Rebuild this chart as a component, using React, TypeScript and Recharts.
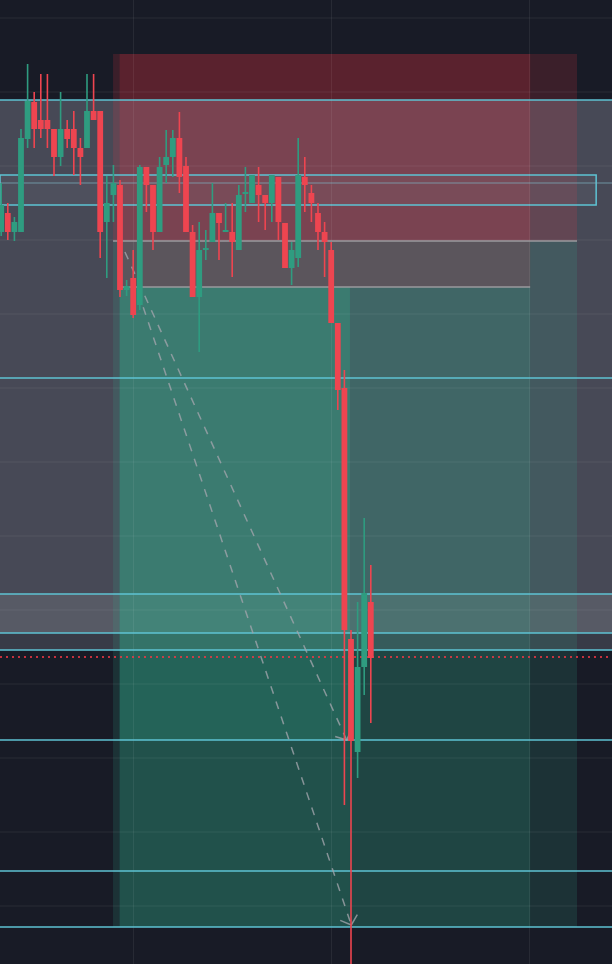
import React from "react";
import { ComposedChart, Bar, XAxis, YAxis, ReferenceArea, ReferenceLine } from "recharts";

// candles, left to right (price units are the chart's own scale, 0 = bottom edge)
const OPEN = [732, 751, 732, 732, 825, 862, 844, 844, 835, 807, 835, 835, 816, 816, 853, 853, 742, 769, 779, 674, 686, 659, 797, 779, 732, 799, 807, 826, 798, 732, 667, 714, 722, 751, 732, 732, 714, 770, 761, 779, 769, 761, 787, 741, 696, 706, 787, 771, 751, 732, 714, 641, 576, 325, 212, 297, 362];
const HIGH = [781, 761, 747, 835, 900, 872, 890, 890, 835, 872, 844, 853, 826, 890, 890, 853, 788, 799, 784, 684, 714, 799, 797, 779, 807, 834, 834, 852, 807, 739, 742, 734, 781, 751, 761, 761, 779, 797, 789, 797, 769, 789, 787, 741, 722, 826, 807, 779, 761, 742, 722, 641, 594, 334, 362, 446, 399];
const LOW = [728, 724, 723, 732, 816, 816, 826, 816, 788, 798, 816, 789, 779, 816, 844, 706, 686, 742, 667, 668, 646, 654, 752, 714, 732, 781, 787, 771, 732, 667, 612, 704, 722, 704, 732, 687, 714, 752, 761, 742, 734, 742, 724, 696, 679, 697, 752, 742, 714, 687, 641, 554, 159, 0, 186, 269, 241];
const CLOSE = [759, 732, 742, 826, 863, 835, 835, 835, 807, 835, 825, 816, 807, 853, 844, 732, 761, 781, 674, 678, 649, 797, 779, 732, 797, 807, 826, 787, 732, 667, 714, 716, 751, 741, 734, 722, 769, 772, 789, 769, 761, 789, 742, 696, 714, 789, 779, 761, 732, 722, 641, 574, 334, 223, 297, 371, 306];

// horizontal levels
const CYAN_LEVELS = [864, 586, 370, 331, 314, 224, 93, 37];
const THIN_LEVEL = 781;
const BOX = { from: 759, to: 789, end: 90.1 };
const DOTTED_LEVEL = 307;
const GRID_PRICES = [946, 872, 798, 724, 650, 576, 502, 428, 354, 280, 206, 132, 58];
const GRID_BARS = [20, 50, 80];

// gray bands
const GRAY_BANDS = [
  { top: 864, bottom: 314, opacity: 0.34 },
  { top: 864, bottom: 331, opacity: 0.24 },
  { top: 370, bottom: 331, opacity: 0.33 },
];

// short position tools: bar range, stop, entry, target
const POSITIONS = [
  { start: 16.9, end: 87.2, stop: 910, entry: 723, target: 37, red: 0.16, green: 0.16 },
  { start: 17.9, end: 80.1, stop: 910, entry: 677, target: 37, red: 0.17, green: 0.155 },
];
// extra profit zones of the shorter tools
const EXTRA_ZONES = [
  { start: 17.9, end: 52.8, top: 677, bottom: 37, opacity: 0.12 },
  { start: 17.9, end: 52.8, top: 677, bottom: 224, opacity: 0.2 },
];

// dashed price paths
const PATHS = [
  { from: { x: 18.7, y: 712 }, to: { x: 52.3, y: 224 } },
  { from: { x: 20.7, y: 672 }, to: { x: 53, y: 39 } },
];

const X_MIN = -0.227;
const X_MAX = 92.5;

const BG = "#181b26";
const UP = "#2f9c80";
const DOWN = "#ee4550";
const CYAN = "#5ec3d3";
const GRAY = "#787b86";
const RED_ZONE = "#f23645";
const GREEN_ZONE = "#32af8c";

const candles = OPEN.map((o, i) => ({ i, open: o, high: HIGH[i], low: LOW[i], close: CLOSE[i] }));

const Candle = (props: any) => {
  const { x, y, width, height, payload } = props;
  if (x == null || y == null) return null;
  const { open, close, high, low } = payload;
  const top0 = Math.min(y, y + height);
  const h = Math.abs(height);
  const k = high === low ? 0 : h / (high - low);
  const py = (v: number) => top0 + (high - v) * k;
  const color = close >= open ? UP : DOWN;
  const cx = x + width / 2;
  const bt = py(Math.max(open, close));
  const bb = py(Math.min(open, close));
  return (
    <g>
      <line x1={cx} x2={cx} y1={top0} y2={top0 + h} stroke={color} strokeWidth={1.6} />
      <rect x={cx - 2.9} y={bt} width={5.8} height={Math.max(bb - bt, 1.5)} fill={color} />
    </g>
  );
};

const PathArrow = (p: any) => {
  const { x1, y1, x2, y2 } = p;
  if (x1 == null) return null;
  const ang = Math.atan2(y2 - y1, x2 - x1);
  const len = 12;
  const arm = (s: number) => `${x2 - len * Math.cos(ang + s)},${y2 - len * Math.sin(ang + s)}`;
  return (
    <g stroke="#a0a4ab" strokeWidth={1.5} fill="none" opacity={0.8}>
      <line x1={x1} y1={y1} x2={x2} y2={y2} strokeDasharray="8 8" />
      <polyline points={`${arm(0.85)} ${x2},${y2} ${arm(-0.85)}`} />
    </g>
  );
};

export default function App() {
  return (
    <div style={{ position: "fixed", left: 0, top: 0, width: 612, height: 964, background: BG, overflow: "hidden" }}>
      <ComposedChart width={612} height={964} data={candles} margin={{ top: 0, right: 0, bottom: 0, left: 0 }}>
        <XAxis type="number" dataKey="i" domain={[X_MIN, X_MAX]} allowDataOverflow hide />
        <YAxis type="number" domain={[0, 964]} allowDataOverflow hide />

        {GRID_PRICES.map((p) => (
          <ReferenceLine key={"gh" + p} y={p} stroke="#ffffff" strokeOpacity={0.07} strokeWidth={1} />
        ))}
        {GRID_BARS.map((b) => (
          <ReferenceLine key={"gv" + b} x={b} stroke="#ffffff" strokeOpacity={0.07} strokeWidth={1} />
        ))}

        {GRAY_BANDS.map((g, k) => (
          <ReferenceArea key={"g" + k} x1={X_MIN} x2={X_MAX} y1={g.bottom} y2={g.top} fill={GRAY} fillOpacity={g.opacity} stroke="none" />
        ))}

        {POSITIONS.map((p, k) => (
          <ReferenceArea key={"pr" + k} x1={p.start} x2={p.end} y1={p.entry} y2={p.stop} fill={RED_ZONE} fillOpacity={p.red} stroke="none" />
        ))}
        {POSITIONS.map((p, k) => (
          <ReferenceArea key={"pg" + k} x1={p.start} x2={p.end} y1={p.target} y2={p.entry} fill={GREEN_ZONE} fillOpacity={p.green} stroke="none" />
        ))}
        {EXTRA_ZONES.map((z, k) => (
          <ReferenceArea key={"ez" + k} x1={z.start} x2={z.end} y1={z.bottom} y2={z.top} fill={GREEN_ZONE} fillOpacity={z.opacity} stroke="none" />
        ))}

        {POSITIONS.map((p, k) => (
          <ReferenceLine key={"pe" + k} segment={[{ x: p.start, y: p.entry }, { x: p.end, y: p.entry }]} stroke="#9a9a9e" strokeWidth={1.5} />
        ))}

        <ReferenceArea x1={X_MIN} x2={BOX.end} y1={BOX.from} y2={BOX.to} fill={GRAY} fillOpacity={0.15} stroke={CYAN} strokeWidth={1.5} />
        <ReferenceLine y={THIN_LEVEL} stroke="#7fb3c2" strokeOpacity={0.7} strokeWidth={1} />
        {CYAN_LEVELS.map((p) => (
          <ReferenceLine key={"c" + p} y={p} stroke={CYAN} strokeWidth={1.5} />
        ))}
        <ReferenceLine y={DOTTED_LEVEL} stroke={RED_ZONE} strokeOpacity={0.8} strokeWidth={2} strokeDasharray="2 4" />

        {PATHS.map((p, k) => (
          <ReferenceLine key={"a" + k} segment={[p.from, p.to]} shape={PathArrow} />
        ))}

        <Bar dataKey={(d: any) => [d.low, d.high]} barSize={6} shape={Candle} isAnimationActive={false} zIndex={2500} />
      </ComposedChart>
    </div>
  );
}
